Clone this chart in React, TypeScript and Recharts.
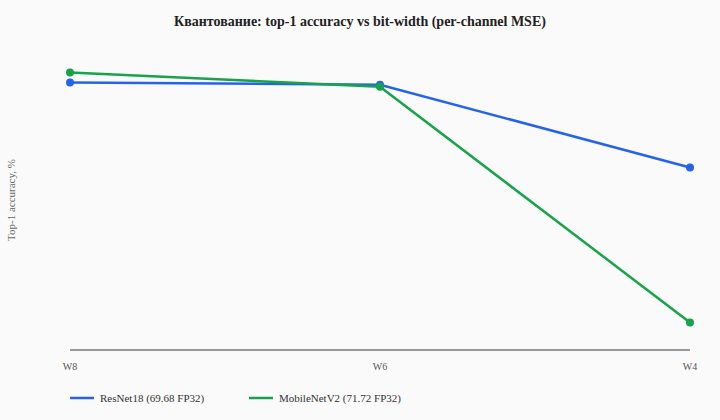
import React from 'react';
import { LineChart, Line, XAxis, YAxis, Legend } from 'recharts';

const categories = ['W8', 'W6', 'W4'];
const resnet18 = [69.5, 69.05, 52.5];
const mobilenetV2 = [71.5, 68.65, 21.5];
const seriesNames = ['ResNet18 (69.68 FP32)', 'MobileNetV2 (71.72 FP32)'];
const seriesKeys = ['resnet18', 'mobilenetV2'];
const seriesColors = ['#2563eb', '#16a34a'];
const yDomain = [16, 76];
const title = 'Квантование: top-1 accuracy vs bit-width (per-channel MSE)';
const yLabel = 'Top-1 accuracy, %';

const data = categories.map((c, i) => ({
  bits: c,
  resnet18: resnet18[i],
  mobilenetV2: mobilenetV2[i],
}));

const FONT = '"Liberation Serif", "Times New Roman", serif';

const XTick = (props: any) => {
  const { x, y, payload } = props;
  return (
    <text
      x={x}
      y={y + 12}
      textAnchor="middle"
      fontFamily={FONT}
      fontSize={10}
      fill="#555"
    >
      {payload.value}
    </text>
  );
};

const LegendContent = () => (
  <div
    style={{
      display: 'flex',
      alignItems: 'center',
      height: 20,
      fontFamily: FONT,
      fontSize: 11,
      color: '#333',
    }}
  >
    {seriesNames.map((name, i) => (
      <div key={name} style={{ display: 'flex', alignItems: 'center', width: 179 }}>
        <svg width={24} height={6} style={{ display: 'block' }}>
          <line x1={0} y1={3} x2={24} y2={3} stroke={seriesColors[i]} strokeWidth={2.5} />
        </svg>
        <span style={{ marginLeft: 6, whiteSpace: 'nowrap' }}>{name}</span>
      </div>
    ))}
  </div>
);

export default function App() {
  return (
    <div
      style={{
        position: 'absolute',
        left: 0,
        top: 0,
        width: 720,
        height: 420,
        background: '#fafafa',
        fontFamily: FONT,
      }}
    >
      <div
        style={{
          position: 'absolute',
          left: 0,
          top: 14,
          width: 720,
          textAlign: 'center',
          fontFamily: FONT,
          fontWeight: 'bold',
          fontSize: 14,
          color: '#222',
        }}
      >
        {title}
      </div>
      <div
        style={{
          position: 'absolute',
          left: 11,
          top: 200,
          transform: 'translate(-50%, -50%) rotate(-90deg)',
          whiteSpace: 'nowrap',
          fontFamily: FONT,
          fontSize: 11,
          color: '#666',
          lineHeight: '12px',
          zIndex: 2,
        }}
      >
        {yLabel}
      </div>
      <LineChart
        width={720}
        height={420}
        data={data}
        margin={{ top: 50, right: 30, left: 70, bottom: 20 }}
      >
        <XAxis
          dataKey="bits"
          axisLine={{ stroke: '#999', strokeWidth: 2 }}
          tickLine={false}
          tick={<XTick />}
          padding={{ left: 0, right: 0 }}
          height={30}
        />
        <YAxis domain={yDomain} hide />
        <Legend
          verticalAlign="bottom"
          content={<LegendContent />}
          wrapperStyle={{ left: 70, top: 388, width: 400, height: 20 }}
        />
        {seriesKeys.map((k, i) => (
          <Line
            key={k}
            dataKey={k}
            name={seriesNames[i]}
            stroke={seriesColors[i]}
            strokeWidth={2.5}
            dot={{ r: 4, fill: seriesColors[i], stroke: seriesColors[i], strokeWidth: 0 }}
            isAnimationActive={false}
          />
        ))}
      </LineChart>
    </div>
  );
}
